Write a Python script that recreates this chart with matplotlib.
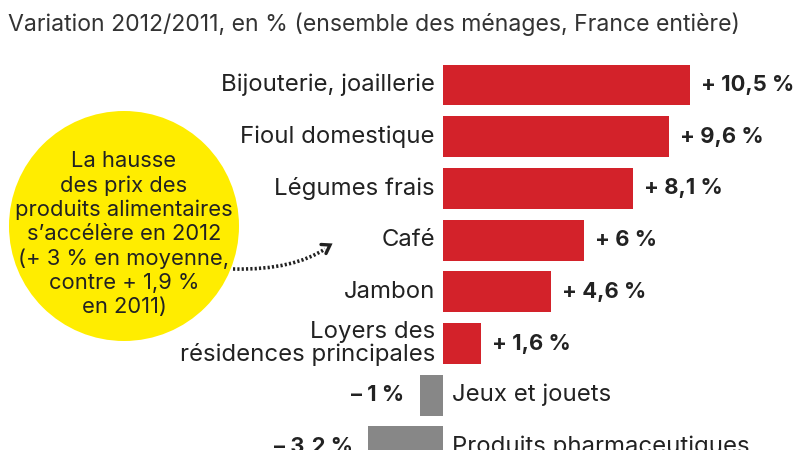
import matplotlib
matplotlib.use("Agg")
import matplotlib.pyplot as plt
from matplotlib.patches import Circle, FancyArrowPatch, PathPatch
from matplotlib.path import Path

# ---- data ----
categories = ["Bijouterie, joaillerie", "Fioul domestique", "Légumes frais", "Café",
              "Jambon", "Loyers des\nrésidences principales", "Jeux et jouets",
              "Produits pharmaceutiques"]
values = [10.5, 9.6, 8.1, 6.0, 4.6, 1.6, -1.0, -3.2]
value_labels = ["+ 10,5 %", "+ 9,6 %", "+ 8,1 %", "+ 6 %", "+ 4,6 %", "+ 1,6 %",
                "– 1 %", "– 3,2 %"]
subtitle = "Variation 2012/2011, en % (ensemble des ménages, France entière)"
bubble_lines = ["La hausse", "des prix des", "produits alimentaires",
                "s’accélère en 2012", "(+ 3 % en moyenne,", "contre + 1,9 %", "en 2011)"]

RED = "#D3222A"
GRAY = "#878787"
YELLOW = "#FFED00"
TXT = "#222222"
FONT = "Inter"

W, H = 800, 450
fig = plt.figure(figsize=(8, 4.5), dpi=100)
fig.patch.set_facecolor("white")

# pixel mapping: zero at x=443px, 23.5 px per %, bar centres start at 85px, step 51.7px
px_per = 23.5
x0 = 443
y_first, y_step = 85, 51.7

ax = fig.add_axes([0, 0, 1, 1])
ax.set_xlim(-x0 / px_per, (W - x0) / px_per)
ax.set_ylim((H - y_first) / y_step, -y_first / y_step)
ax.axis("off")

ypos = list(range(len(values)))
colors = [RED if v > 0 else GRAY for v in values]
ax.barh(ypos, values, height=0.79, color=colors, zorder=2)

renderer = fig.canvas.get_renderer()

def fit(t, target):
    bb = t.get_window_extent(renderer=renderer)
    t.set_fontsize(t.get_fontsize() * target / bb.width)
    return t.get_fontsize()

# reference sizes
tmp = ax.text(0, 0, "Bijouterie, joaillerie", fontsize=14, family=FONT)
cat_fs = fit(tmp, 214); tmp.remove()
tmp = ax.text(0, 0, "+ 10,5 %", fontsize=14, family=FONT, weight="bold")
val_fs = fit(tmp, 93); tmp.remove()

lab_off = 8 / px_per
val_off = 11 / px_per
for y, v, c, vl in zip(ypos, values, categories, value_labels):
    if v > 0:
        ax.text(-lab_off, y, c, ha="right", va="center", fontsize=cat_fs, family=FONT,
                color=TXT, linespacing=0.95)
        ax.text(v + val_off, y, vl, ha="left", va="center", fontsize=val_fs, family=FONT,
                weight="bold", color=TXT)
    else:
        ax.text(9 / px_per, y, c, ha="left", va="center", fontsize=cat_fs, family=FONT,
                color=TXT)
        ax.text(v - 15 / px_per, y, vl, ha="right", va="center", fontsize=val_fs,
                family=FONT, weight="bold", color=TXT)

# overlay axes in pixel coordinates
ov = fig.add_axes([0, 0, 1, 1])
ov.set_xlim(0, W)
ov.set_ylim(H, 0)
ov.axis("off")
ov.patch.set_alpha(0)

st = ov.text(8, 24, subtitle, ha="left", va="center", fontsize=14, family=FONT, color="#333333")
fit(st, 734)

ov.add_patch(Circle((124, 226), 115, facecolor=YELLOW, edgecolor="none", zorder=1))
tmp = ov.text(0, 0, "produits alimentaires", fontsize=14, family=FONT)
bub_fs = fit(tmp, 217); tmp.remove()
for i, line in enumerate(bubble_lines):
    ov.text(124, 161 + i * 24.4, line, ha="center", va="center", fontsize=bub_fs,
            family=FONT, color=TXT, zorder=3)

# dotted curved arrow
verts = [(233, 269), (275, 270), (305, 262), (325, 249)]
ov.add_patch(PathPatch(Path(verts, [Path.MOVETO, Path.CURVE4, Path.CURVE4, Path.CURVE4]),
                       facecolor="none", edgecolor=TXT, lw=2.6, linestyle=(0, (0.6, 0.6)),
                       zorder=3))
ov.plot([321, 330, 326], [244.5, 245, 253.5], color=TXT, lw=2.4,
        solid_capstyle="round", solid_joinstyle="miter", zorder=3)

fig.savefig("out.png", dpi=100, facecolor="white")
